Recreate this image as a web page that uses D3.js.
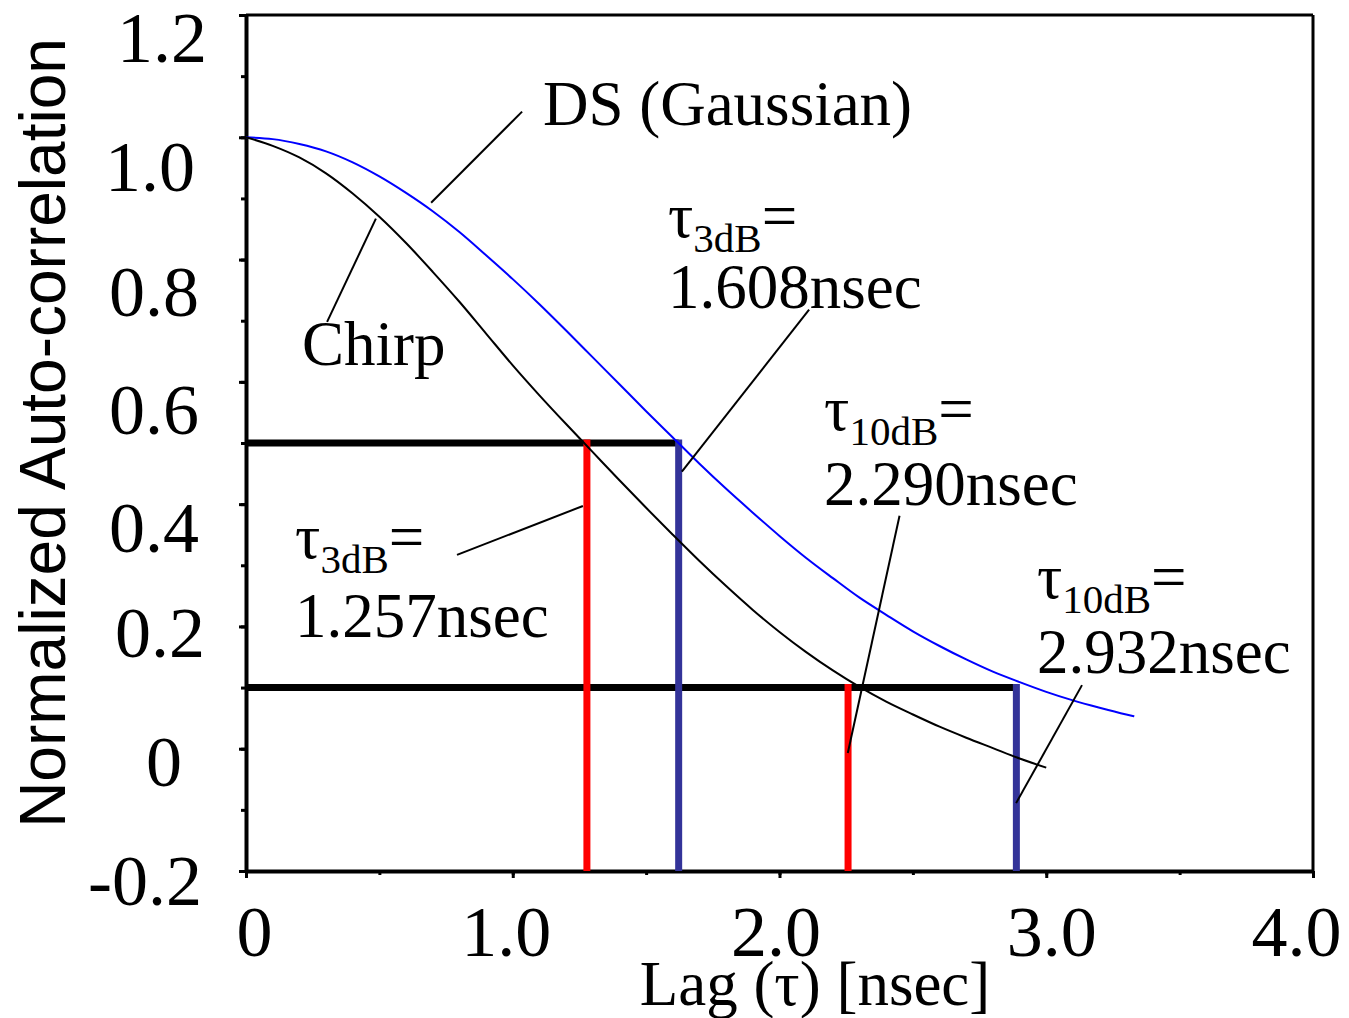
<!DOCTYPE html>
<html><head><meta charset="utf-8">
<script src="https://cdn.jsdelivr.net/npm/d3@7"></script>
<style>body{margin:0;background:#fff}</style>
</head><body>
<svg id="chart" width="1349" height="1018"></svg>
<script>
// ---- data ----
const lagDS = [0,0.1,0.2,0.3,0.4,0.5,0.6,0.7,0.8,0.9,1.0,1.1,1.2,1.3,1.4,1.5,1.6,1.7,1.8,1.9,2.0,2.1,2.2,2.3,2.4,2.5,2.6,2.7,2.8,2.9,3.0,3.1,3.2,3.3,3.33];
const acfDS = [1.000,0.997,0.989,0.977,0.959,0.936,0.909,0.879,0.845,0.807,0.768,0.727,0.684,0.640,0.596,0.552,0.509,0.466,0.425,0.386,0.348,0.312,0.279,0.247,0.219,0.192,0.168,0.146,0.126,0.109,0.093,0.079,0.067,0.056,0.053];
const lagChirp = [0,0.1,0.2,0.3,0.4,0.5,0.6,0.7,0.8,0.9,1.0,1.1,1.2,1.3,1.4,1.5,1.6,1.7,1.8,1.9,2.0,2.1,2.2,2.3,2.4,2.5,2.6,2.7,2.8,2.9,3.0];
const acfChirp = [1.000,0.986,0.967,0.941,0.908,0.870,0.827,0.780,0.731,0.679,0.627,0.578,0.531,0.485,0.439,0.394,0.350,0.307,0.266,0.227,0.191,0.158,0.128,0.101,0.077,0.056,0.036,0.018,0.001,-0.016,-0.031];

const xTickValues = [0,1,2,3,4];
const xTickLabels = ["0","1.0","2.0","3.0","4.0"];
const yTickValues = [-0.2,0,0.2,0.4,0.6,0.8,1.0,1.2];
const yTickLabels = ["-0.2","0","0.2","0.4","0.6","0.8","1.0","1.2"];

const levelLabels = ["3dB","10dB"];
const levelValues = [0.5, 0.1];          // -3 dB and -10 dB levels
const chirpWidths = [1.278, 2.257];      // red markers (Chirp)
const dsWidths = [1.622, 2.888];         // blue markers (DS)
const widthTexts = ["1.257nsec","2.290nsec","1.608nsec","2.932nsec"];

// ---- layout ----
const svg = d3.select("#chart");
const x = d3.scaleLinear().domain([0,4]).range([246,1313]);
const y = d3.scaleLinear().domain([-0.2,1.2]).range([871,15]);
const serif = "'Liberation Serif','Times New Roman',serif";
const sans = "'Liberation Sans',Arial,sans-serif";

// label nudges (layout only)
const yLabelRight = [200,180,203,197,197,197,193,205];
const yLabelDy = [9,13,6,23,28,32,29,22];
const xLabelDx = [8,-7,-4,5,-17];

// frame
svg.append("line").attr("x1",x(0)).attr("x2",x(4)).attr("y1",y(1.2)).attr("y2",y(1.2)).attr("stroke","#000").attr("stroke-width",3);
svg.append("line").attr("x1",x(4)).attr("x2",x(4)).attr("y1",y(1.2)).attr("y2",y(-0.2)).attr("stroke","#000").attr("stroke-width",3);

// y axis: minor ticks every 0.1
const yMinor = d3.range(-2,13).map(i=>i/10);
svg.append("g").attr("transform",`translate(${x(0)},0)`)
  .call(d3.axisLeft(y).tickValues(yMinor).tickFormat("").tickSize(5).tickSizeOuter(0))
  .call(g=>g.select(".domain").remove())
  .call(g=>g.selectAll("line").attr("stroke-width",3));
const yAx = svg.append("g").attr("transform",`translate(${x(0)},0)`)
  .call(d3.axisLeft(y).tickValues(yTickValues).tickFormat((d,i)=>yTickLabels[i]).tickSize(7).tickSizeOuter(0));
yAx.select(".domain").attr("stroke-width",4);
yAx.selectAll("line").attr("stroke-width",3);
yAx.selectAll("text").attr("font-family",serif).attr("font-size",72).attr("fill","#000")
  .attr("text-anchor","end").attr("dy",null)
  .attr("x",(d,i)=>yLabelRight[i]-x(0)+2)
  .attr("y",(d,i)=>yLabelDy[i]+24);

// x axis
const xMinor = d3.range(0,9).map(i=>i/2);
svg.append("g").attr("transform",`translate(0,${y(-0.2)})`)
  .call(d3.axisBottom(x).tickValues(xMinor).tickFormat("").tickSize(4).tickSizeOuter(0))
  .call(g=>g.select(".domain").remove())
  .call(g=>g.selectAll("line").attr("stroke-width",3));
const xAx = svg.append("g").attr("transform",`translate(0,${y(-0.2)})`)
  .call(d3.axisBottom(x).tickValues(xTickValues).tickFormat((d,i)=>xTickLabels[i]).tickSize(7).tickSizeOuter(0));
xAx.select(".domain").attr("stroke-width",4);
xAx.selectAll("line").attr("stroke-width",3);
xAx.selectAll("text").attr("font-family",serif).attr("font-size",72).attr("fill","#000")
  .attr("dy",null).attr("y",85).attr("x",(d,i)=>xLabelDx[i]);

// axis titles
svg.append("text").attr("x",815).attr("y",1005).attr("text-anchor","middle")
  .attr("font-family",serif).attr("font-size",63).text("Lag (τ) [nsec]");
svg.append("text").attr("transform","translate(65,433) rotate(-90)").attr("text-anchor","middle")
  .attr("font-family",sans).attr("font-size",64).text("Normalized Auto-correlation");

// threshold horizontal lines
levelValues.forEach((lv,i)=>{
  svg.append("line").attr("x1",x(0)).attr("x2",x(dsWidths[i])).attr("y1",y(lv)).attr("y2",y(lv))
    .attr("stroke","#000").attr("stroke-width",7);
});
// vertical markers
levelValues.forEach((lv,i)=>{
  svg.append("line").attr("x1",x(chirpWidths[i])).attr("x2",x(chirpWidths[i]))
    .attr("y1",y(lv)-3.5).attr("y2",y(-0.2)).attr("stroke","#ff0000").attr("stroke-width",7);
  svg.append("line").attr("x1",x(dsWidths[i])).attr("x2",x(dsWidths[i]))
    .attr("y1",y(lv)-3.5).attr("y2",y(-0.2)).attr("stroke","#333399").attr("stroke-width",7);
});

// curves
const line = d3.line().x(d=>x(d[0])).y(d=>y(d[1])).curve(d3.curveMonotoneX);
svg.append("path").datum(d3.zip(lagDS,acfDS)).attr("d",line)
  .attr("fill","none").attr("stroke","#0000ff").attr("stroke-width",2);
svg.append("path").datum(d3.zip(lagChirp,acfChirp)).attr("d",line)
  .attr("fill","none").attr("stroke","#000").attr("stroke-width",2);

// leader lines (data coordinates)
const leaders = [
  [[1.035,1.042],[0.694,0.893]],
  [[0.487,0.867],[0.304,0.698]],
  [[2.111,0.718],[1.634,0.453]],
  [[0.791,0.317],[1.263,0.397]],
  [[2.450,0.381],[2.256,-0.007]],
  [[3.134,0.104],[2.887,-0.089]]
];
leaders.forEach(l=>{
  svg.append("line").attr("x1",x(l[0][0])).attr("y1",y(l[0][1])).attr("x2",x(l[1][0])).attr("y2",y(l[1][1]))
    .attr("stroke","#000").attr("stroke-width",2);
});

// series labels
svg.append("text").attr("x",x(1.113)).attr("y",y(1.020)).attr("font-family",serif).attr("font-size",63).text("DS (Gaussian)");
svg.append("text").attr("x",x(0.210)).attr("y",y(0.628)).attr("font-family",serif).attr("font-size",63).text("Chirp");

// tau annotations: [x, tauBaseline, valueBaseline, levelIndex, textIndex]
const tauPos = [
  [1.582,0.837,0.721,0,2],
  [0.184,0.312,0.183,0,0],
  [2.167,0.521,0.399,1,1],
  [2.965,0.247,0.124,1,3]
];
tauPos.forEach(p=>{
  const t = svg.append("text").attr("x",x(p[0])).attr("y",y(p[1])).attr("font-family",serif).attr("font-size",63);
  t.append("tspan").text("τ");
  t.append("tspan").attr("font-size",41).attr("dy",15).text(levelLabels[p[3]]);
  t.append("tspan").attr("dy",-15).text("=");
  svg.append("text").attr("x",x(p[0])).attr("y",y(p[2])).attr("font-family",serif).attr("font-size",63).text(widthTexts[p[4]]);
});
</script>
</body></html>
